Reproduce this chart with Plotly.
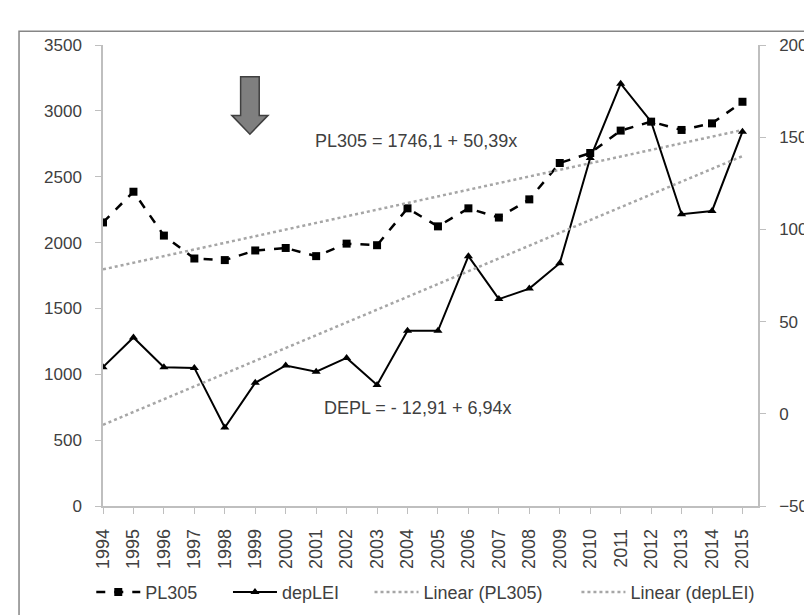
import numpy as np
import plotly.graph_objects as go

# data
years = list(range(1994, 2016))
pl305 = [2153, 2386, 2053, 1879, 1867, 1940, 1959, 1897, 1992, 1980, 2260,
         2123, 2260, 2190, 2328, 2604, 2680, 2850, 2918, 2855, 2905, 3069]
deplei = [25.3, 41.4, 25.3, 24.9, -7.4, 16.8, 26.2, 22.8, 30.3, 15.6, 45.0,
          45.0, 85.5, 62.2, 67.9, 81.7, 138.7, 179.0, 158.4, 108.2, 110.0, 153.0]

# trend equations shown on the chart (x = 1..n)
pl_coef = (1746.1, 50.39)
dep_coef = (-12.91, 6.94)

idx = np.arange(1, len(years) + 1)
pl_trend = pl_coef[0] + pl_coef[1] * idx
dep_trend = dep_coef[0] + dep_coef[1] * idx

FONT = "Liberation Sans"
TXT = "#404040"
AX = "#bfbfbf"

fig = go.Figure()

fig.add_trace(go.Scatter(
    x=years, y=pl305, name="PL305", mode="lines+markers", legend="legend",
    line=dict(color="black", width=2.5, dash="dash"),
    marker=dict(symbol="square", size=8, color="black")))

fig.add_trace(go.Scatter(
    x=years, y=deplei, name="depLEI", mode="lines+markers", yaxis="y2",
    legend="legend2",
    line=dict(color="black", width=2),
    marker=dict(symbol="triangle-up", size=8, color="black")))

fig.add_trace(go.Scatter(
    x=years, y=pl_trend, name="Linear (PL305)", mode="lines", legend="legend3",
    line=dict(color="#a6a6a6", width=2.5, dash="dot")))

fig.add_trace(go.Scatter(
    x=years, y=dep_trend, name="Linear (depLEI)", mode="lines", yaxis="y2",
    legend="legend4",
    line=dict(color="#a6a6a6", width=2.5, dash="dot")))


def leg(x):
    return dict(orientation="h", x=x, xanchor="left", y=-0.187, yanchor="middle",
                font=dict(size=18, color=TXT), itemwidth=44,
                bgcolor="rgba(0,0,0,0)")


# plot area in pixels: x 95..766, y 37..503
fig.update_layout(
    width=812, height=615,
    margin=dict(l=95, r=46, t=37, b=112),
    paper_bgcolor="white", plot_bgcolor="white",
    font=dict(family=FONT, size=17, color=TXT),
    xaxis=dict(
        range=[1994, 2015.51], tickmode="array", tickvals=years,
        ticktext=[str(y) for y in years], tickangle=-90,
        showgrid=False, zeroline=False, showline=True, linecolor=AX, linewidth=1.5,
        ticks="outside", ticklen=6, tickcolor=AX, ticklabelstandoff=8,
        tickfont=dict(size=18, color=TXT)),
    yaxis=dict(
        range=[0, 3500], dtick=500, showgrid=False, zeroline=False,
        showline=True, linecolor=AX, linewidth=1.5,
        ticks="outside", ticklen=6, tickcolor=AX, ticklabelstandoff=10),
    yaxis2=dict(
        range=[-50, 200], dtick=50, overlaying="y", side="right",
        showgrid=False, zeroline=False, showline=True, linecolor=AX, linewidth=1.5,
        ticks="outside", ticklen=6, tickcolor=AX, ticklabelstandoff=10),
    legend=leg(-0.0179),
    legend2=leg(0.1908),
    legend3=leg(0.4069),
    legend4=leg(0.7228),
    showlegend=True,
)

fig.add_annotation(text="PL305 = 1746,1 + 50,39x", xref="paper", yref="paper",
                   x=0.478, y=0.817, showarrow=False,
                   font=dict(size=18, color=TXT))
fig.add_annotation(text="DEPL = - 12,91 + 6,94x", xref="paper", yref="paper",
                   x=0.4806, y=0.187, showarrow=False,
                   font=dict(size=18, color=TXT))

# grey down arrow
fig.add_shape(type="path", xref="paper", yref="paper",
              path="M 0.2101 0.9312 L 0.2385 0.9312 L 0.2385 0.8473 L 0.2519 0.8473 "
                   "L 0.2243 0.8065 L 0.1967 0.8473 L 0.2101 0.8473 Z",
              fillcolor="#7f7f7f", line=dict(color="#404040", width=1.5))

# chart border
fig.add_shape(type="rect", xref="paper", yref="paper",
              x0=-0.1282, x1=1.3, y0=-0.5, y1=1.030,
              line=dict(color="#868686", width=1.5), fillcolor="rgba(0,0,0,0)",
              layer="below")

fig.write_html("out.html")
